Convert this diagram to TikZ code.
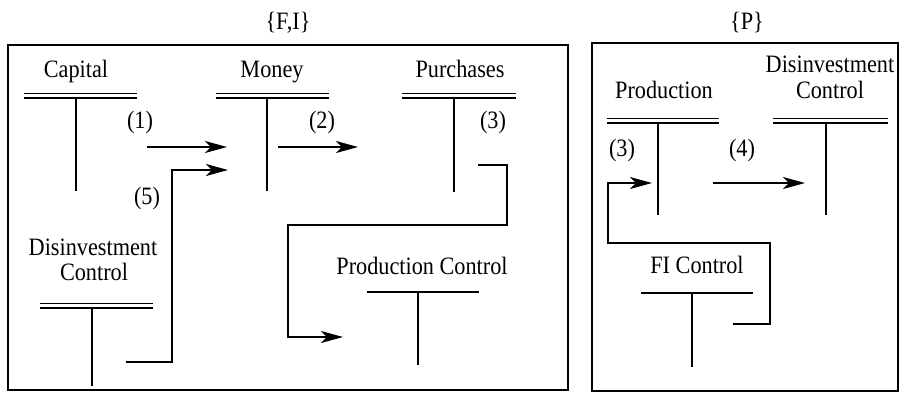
\documentclass[tikz,border=0pt]{standalone}
\usepackage{fontspec}
\setmainfont{Liberation Serif}[FakeStretch=0.89]
\usetikzlibrary{arrows.meta}
\begin{document}
\begin{tikzpicture}[x=1pt,y=-1pt,
  lbl/.style={inner sep=0pt, anchor=base, font=\fontsize{25}{27}\selectfont},
  frame/.style={line width=2.4pt},
  stem/.style={line width=2.1pt},
  rail/.style={line width=1.7pt},
  bar/.style={line width=2.1pt},
  flow/.style={line width=1.8pt, -{Stealth[length=22pt,width=12pt,inset=6pt]}}]
\useasboundingbox (0,0) rectangle (901,392);

% group frames and their titles
\draw[frame] (8,45) rectangle (568,390);
\draw[frame] (592,43) rectangle (898,391);
\node[lbl] (fi) at (288,29) {\{F,I\}};
\node[lbl] (p)  at (747,29) {\{P\}};

% Capital
\node[lbl] (capital) at (76,77) {Capital};
\draw[rail] (24,93.5) -- (137,93.5);
\draw[rail] (24,97.8) -- (137,97.8);
\coordinate (capTop) at (76,98.5);
\coordinate (capBot) at (76,191);
\draw[stem] (capTop) -- (capBot);

% Money
\node[lbl] (money) at (272,77) {Money};
\draw[rail] (216,93.5) -- (329,93.5);
\draw[rail] (216,97.8) -- (329,97.8);
\coordinate (monTop) at (267,98.5);
\coordinate (monBot) at (267,191);
\draw[stem] (monTop) -- (monBot);

% Purchases
\node[lbl] (purch) at (460,77) {Purchases};
\draw[rail] (402,93.5) -- (516,93.5);
\draw[rail] (402,97.8) -- (516,97.8);
\coordinate (purTop) at (454,98.5);
\coordinate (purBot) at (454,192);
\draw[stem] (purTop) -- (purBot);

% Disinvestment Control (F,I)
\node[lbl] (dcl) at (93,255) {Disinvestment};
\node[lbl] (dcl2) at (94,280) {Control};
\draw[rail] (40,303.5) -- (153,303.5);
\draw[rail] (40,307.8) -- (153,307.8);
\coordinate (dclTop) at (92,308.5);
\coordinate (dclBot) at (92,386);
\draw[stem] (dclTop) -- (dclBot);

% Production Control
\node[lbl] (pc) at (422,274) {Production Control};
\draw[bar] (367,292) -- (479,292);
\coordinate (pcTop) at (418,292);
\coordinate (pcBot) at (418,365);
\draw[stem] (pcTop) -- (pcBot);

% Production (P)
\node[lbl] (prod) at (664,98) {Production};
\draw[rail] (607,118.5) -- (719,118.5);
\draw[rail] (607,122.8) -- (719,122.8);
\coordinate (prTop) at (658,123.5);
\coordinate (prBot) at (658,215);
\draw[stem] (prTop) -- (prBot);

% Disinvestment Control (P)
\node[lbl] (dcr) at (830,72) {Disinvestment};
\node[lbl] (dcr2) at (830,98) {Control};
\draw[rail] (773,118.5) -- (888,118.5);
\draw[rail] (773,122.8) -- (888,122.8);
\coordinate (dcrTop) at (826,123.5);
\coordinate (dcrBot) at (826,215);
\draw[stem] (dcrTop) -- (dcrBot);

% FI Control
\node[lbl] (fic) at (697,273) {FI Control};
\draw[bar] (641,293) -- (753,293);
\coordinate (ficTop) at (692,293);
\coordinate (ficBot) at (692,367);
\draw[stem] (ficTop) -- (ficBot);

% step labels
\node[lbl] (s1)  at (140,128) {(1)};
\node[lbl] (s2)  at (322,128) {(2)};
\node[lbl] (s3a) at (493,128) {(3)};
\node[lbl] (s5)  at (147,204) {(5)};
\node[lbl] (s3b) at (622,156) {(3)};
\node[lbl] (s4)  at (742,156) {(4)};

% flows
\coordinate (a1s) at (147,147);  \coordinate (a1e) at (227,147);
\draw[flow] (a1s) -- (a1e);
\coordinate (a2s) at (278,147);  \coordinate (a2e) at (358,147);
\draw[flow] (a2s) -- (a2e);
\coordinate (a4s) at (713,183);  \coordinate (a4e) at (805,183);
\draw[flow] (a4s) -- (a4e);

% (3) Purchases -> Production Control
\coordinate (p3s) at (478,165);
\coordinate (p3e) at (343,337);
\draw[flow] (p3s) -- (507,165) -- (507,225) -- (288,225) |- (p3e);

% (5) Disinvestment Control -> Money
\coordinate (p5s) at (126,362);
\coordinate (p5e) at (228,170);
\draw[flow] (p5s) -- (172,362) |- (p5e);

% (3) FI Control -> Production
\coordinate (f3s) at (733,324);
\coordinate (f3e) at (652,183);
\draw[flow] (f3s) -- (770,324) -- (770,243) -- (608,243) |- (f3e);
\end{tikzpicture}
\end{document}
